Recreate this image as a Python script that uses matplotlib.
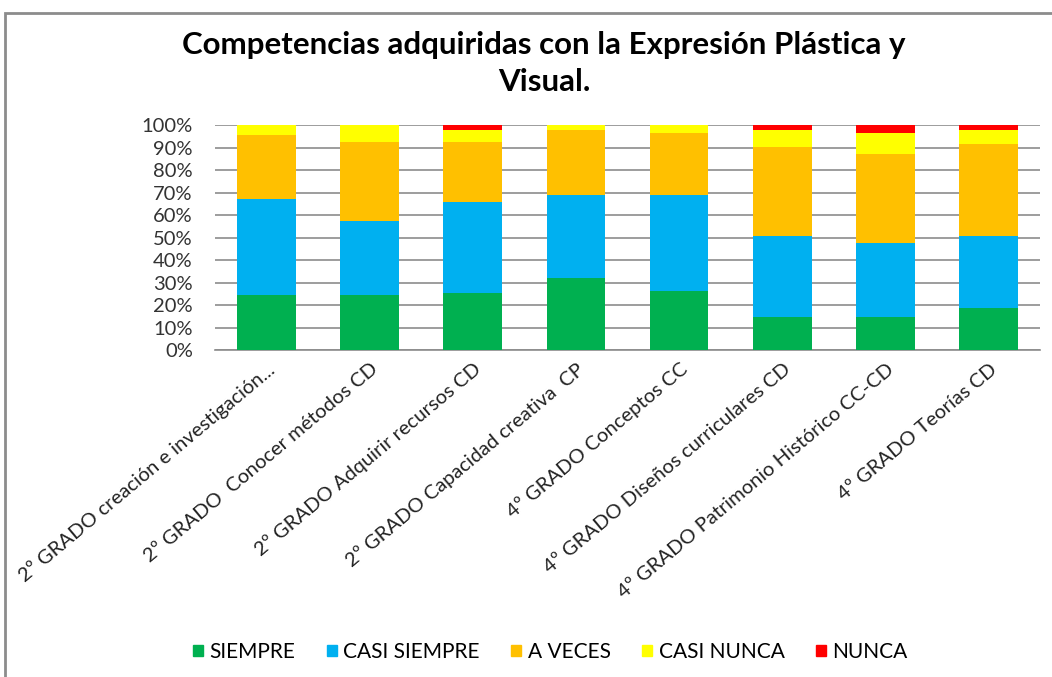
import matplotlib.pyplot as plt
import matplotlib.patches as mpatches
import matplotlib.transforms as mtransforms
import numpy as np

plt.rcParams['font.family'] = ['Lato', 'DejaVu Sans']

# Data (percent of responses)
categories = [
    "2º GRADO creación e investigación...",
    "2º GRADO  Conocer métodos CD",
    "2º GRADO Adquirir recursos CD",
    "2º GRADO Capacidad creativa  CP",
    "4º GRADO Conceptos CC",
    "4º GRADO Diseños curriculares CD",
    "4º GRADO Patrimonio Histórico CC-CD",
    "4º GRADO Teorías CD",
]
siempre = [24.4, 24.4, 25.3, 31.9, 26.2, 14.8, 14.8, 18.8]
casi_siempre = [42.6, 32.9, 40.6, 37.0, 42.7, 35.9, 32.8, 31.9]
a_veces = [28.6, 35.3, 26.7, 28.9, 27.7, 39.7, 39.4, 40.7]
casi_nunca = [4.4, 7.4, 5.2, 2.2, 3.4, 7.4, 9.6, 6.4]
nunca = [0.0, 0.0, 2.2, 0.0, 0.0, 2.2, 3.4, 2.2]

series_names = ["SIEMPRE", "CASI SIEMPRE", "A VECES", "CASI NUNCA", "NUNCA"]
series_colors = ["#00B050", "#00B0F0", "#FFC000", "#FFFF00", "#FF0000"]

fig = plt.figure(figsize=(10.52, 6.77), dpi=100)
ax = fig.add_axes([0.2044, 0.483, 0.7842, 0.3323])

x = np.arange(len(categories))
data = np.array([siempre, casi_siempre, a_veces, casi_nunca, nunca])
totals = data.sum(axis=0)
pct = data / totals * 100

bottom = np.zeros(len(categories))
for vals, name, col in zip(pct, series_names, series_colors):
    ax.bar(x, vals, bottom=bottom, width=0.57, color=col, label=name, zorder=3)
    bottom += vals

ax.set_xlim(-0.5, len(categories) - 0.5)
ax.set_ylim(0, 100)
ax.set_yticks(np.arange(0, 101, 10))
ax.set_yticklabels([f"{v}%" for v in range(0, 101, 10)], fontsize=14.5, color="#333333")
ax.yaxis.grid(True, color="#8c8c8c", linewidth=1.2, zorder=0)
ax.tick_params(axis='y', length=0, pad=16)
ax.tick_params(axis='x', length=0, pad=10)
for s in ['top', 'right', 'left']:
    ax.spines[s].set_visible(False)
ax.spines['bottom'].set_color("#8c8c8c")
ax.spines['bottom'].set_linewidth(1.2)

ax.set_xticks(x)
ax.set_xticklabels(categories, rotation=40, ha='right', va='center',
                   rotation_mode='anchor', fontsize=14.5, color="#222222")
shift = mtransforms.ScaledTranslation(6 / 100, -3 / 100, fig.dpi_scale_trans)
for lab in ax.get_xticklabels():
    lab.set_transform(lab.get_transform() + shift)

fig.text(0.517, 0.9335, "Competencias adquiridas con la Expresión Plástica y",
         ha='center', va='center', fontsize=22.5, fontweight='bold')
fig.text(0.517, 0.879, "Visual.", ha='center', va='center', fontsize=22.5, fontweight='bold')

handles = [mpatches.Patch(color=c, label=n) for n, c in zip(series_names, series_colors)]
fig.legend(handles=handles, loc='center', bbox_to_anchor=(0.523, 0.037), ncol=5,
           frameon=False, fontsize=15, handlelength=0.5, handleheight=0.5,
           handletextpad=0.3, columnspacing=1.5)

# outer chart border
border = mpatches.Rectangle((5 / 1052, -0.05), 1.1, 1 - 13 / 677 + 0.05,
                            transform=fig.transFigure, fill=False,
                            edgecolor="#8c8c8c", linewidth=2)
fig.patches.append(border)

fig.savefig("out.png", dpi=100)
